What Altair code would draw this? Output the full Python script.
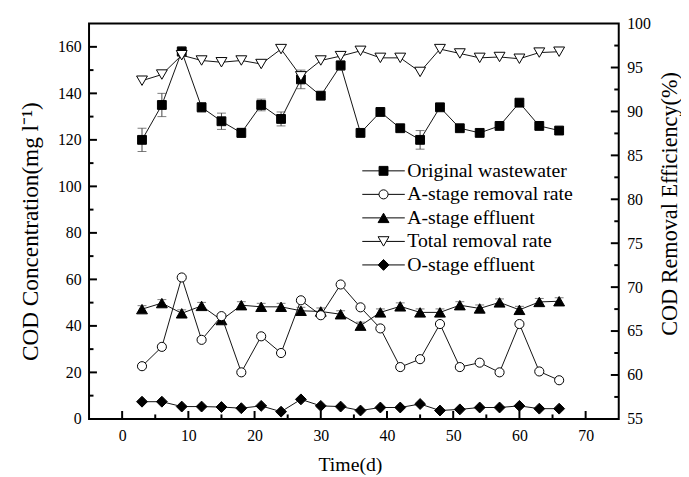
import altair as alt
import pandas as pd

# ---------------- data ----------------
days = [3, 6, 9, 12, 15, 18, 21, 24, 27, 30, 33, 36, 39, 42, 45, 48, 51, 54, 57, 60, 63, 66]
original = [120, 135, 158, 134, 128, 123, 135, 129, 146, 139, 152, 123, 132, 125, 120, 134, 125, 123, 126, 136, 126, 124]
original_err = [5, 5, 2, 2, 3.5, 2, 2.5, 3, 4, 0.5, 2, 0.5, 0.5, 0.5, 4, 0.5, 0.5, 0.5, 0.5, 0.5, 0.5, 0.5]
a_removal = [61.0, 63.2, 71.1, 64.0, 66.7, 60.3, 64.4, 62.5, 68.5, 66.8, 70.3, 67.7, 65.3, 60.9, 61.8, 65.8, 60.9, 61.4, 60.3, 65.8, 60.4, 59.4]
a_effluent = [47.2, 49.8, 45.4, 48.6, 42.5, 48.9, 48.2, 48.2, 46.5, 46.2, 45.0, 40.1, 45.8, 48.4, 45.8, 45.8, 48.9, 47.5, 50.1, 46.9, 50.3, 50.6]
a_effluent_err = [1.5, 1.5, 1.5, 1.5, 1.5, 1.5, 1.5, 1.5, 1.5, 1.5, 1.5, 1.5, 1.5, 1.5, 1.5, 1.5, 1.5, 1.5, 1.5, 1.5, 1.5, 1.5]
total_removal = [93.5, 94.2, 96.4, 95.8, 95.6, 95.8, 95.4, 97.1, 94.0, 95.8, 96.3, 96.9, 96.1, 96.1, 94.5, 97.1, 96.6, 96.1, 96.2, 96.0, 96.7, 96.8]
o_effluent = [7.4, 7.4, 5.3, 5.3, 5.1, 4.6, 5.6, 3.1, 8.4, 5.6, 5.3, 3.6, 4.9, 4.9, 6.4, 3.6, 4.1, 4.9, 4.9, 5.6, 4.4, 4.4]

series_names = ["Original wastewater", "A-stage removal rate", "A-stage effluent",
                "Total removal rate", "O-stage effluent"]

x_labels = [0, 10, 20, 30, 40, 50, 60, 70]
x_minor = [5, 15, 25, 35, 45, 55, 65]
left_labels = [0, 20, 40, 60, 80, 100, 120, 140, 160]
left_major = [20, 40, 60, 80, 100, 120, 140, 160]
left_minor = [10, 30, 50, 70, 90, 110, 130, 150]
right_labels = [55, 60, 65, 70, 75, 80, 85, 90, 95, 100]
right_major = [60, 65, 70, 75, 80, 85, 90, 95]
right_minor = [57.5, 62.5, 67.5, 72.5, 77.5, 82.5, 87.5, 92.5, 97.5]

# ---------------- styling ----------------
FONT = "Liberation Serif"
W, H = 536, 400
INK = "#111111"

xs = alt.Scale(domain=[-5, 75], nice=False, zero=False)
ys_left = alt.Scale(domain=[0, 170], nice=False, zero=False)
ys_right = alt.Scale(domain=[55, 100], nice=False, zero=False)

df_orig = pd.DataFrame({"day": days, "value": original, "err": original_err})
df_orig["lo"] = df_orig["value"] - df_orig["err"]
df_orig["hi"] = df_orig["value"] + df_orig["err"]
df_aeff = pd.DataFrame({"day": days, "value": a_effluent, "err": a_effluent_err})
df_aeff["lo"] = df_aeff["value"] - df_aeff["err"]
df_aeff["hi"] = df_aeff["value"] + df_aeff["err"]
df_oeff = pd.DataFrame({"day": days, "value": o_effluent})
df_arem = pd.DataFrame({"day": days, "value": a_removal})
df_trem = pd.DataFrame({"day": days, "value": total_removal})

x_axis = alt.Axis(values=x_labels, ticks=False, tickSize=0, domain=False, grid=False,
                  labelFont=FONT, labelFontSize=16, labelPadding=9, labelColor="black",
                  title="Time(d)", titleFont=FONT, titleFontSize=20, titleFontWeight="normal",
                  titleColor="black", titleX=264, titleY=46, titleBaseline="middle")
left_axis = alt.Axis(values=left_labels, orient="left", ticks=False, tickSize=0, domain=False, grid=False,
                     labelFont=FONT, labelFontSize=16, labelPadding=8, labelColor="black",
                     title="COD Concentration(mg l\u207b\u00b9)", titleFont=FONT, titleFontSize=23.5,
                     titleFontWeight="normal", titleColor="black", titleAngle=270,
                     titleX=-59, titleY=210, titleBaseline="middle", titleAlign="center")
right_axis = alt.Axis(values=right_labels, orient="right", ticks=False, tickSize=0, domain=False, grid=False,
                      labelFont=FONT, labelFontSize=16, labelPadding=8, labelColor="black",
                      title="COD Removal Efficiency(%)", titleFont=FONT, titleFontSize=22.5,
                      titleFontWeight="normal", titleColor="black", titleAngle=270,
                      titleX=51, titleY=182, titleBaseline="middle", titleAlign="center")


def X(field):
    return alt.X(field, scale=xs, axis=x_axis)


def Y(field, ys):
    return alt.Y(field, scale=ys, axis=left_axis if ys is ys_left else right_axis)


def line(df, ys):
    return alt.Chart(df).mark_line(color=INK, strokeWidth=1).encode(
        x=X("day:Q"), y=Y("value:Q", ys),
    )


def points(df, ys, shape, fill, size):
    return alt.Chart(df).mark_point(shape=shape, filled=True, fill=fill, stroke="black",
                                    strokeWidth=1, size=size, opacity=1).encode(
        x=X("day:Q"), y=Y("value:Q", ys),
    )


def errbars(df, ys):
    base = alt.Chart(df)
    rule = base.mark_rule(color="#444444", strokeWidth=1).encode(
        x=X("day:Q"), y=Y("lo:Q", ys), y2="hi:Q",
    )
    cap_lo = base.mark_tick(orient="horizontal", color="#444444", size=9, thickness=1).encode(
        x=X("day:Q"), y=Y("lo:Q", ys),
    )
    cap_hi = base.mark_tick(orient="horizontal", color="#444444", size=9, thickness=1).encode(
        x=X("day:Q"), y=Y("hi:Q", ys),
    )
    return rule + cap_lo + cap_hi


def yticks(vals, ys, x0, x1):
    return alt.Chart(pd.DataFrame({"t": vals})).mark_rule(color="black", strokeWidth=2).encode(
        y=Y("t:Q", ys), x=alt.value(x0), x2=alt.value(x1),
    )


def xticks(vals, ys, length):
    return alt.Chart(pd.DataFrame({"t": vals})).mark_rule(color="black", strokeWidth=2).encode(
        x=X("t:Q"), y=alt.value(H), y2=alt.value(H - length),
    )


left_group = alt.layer(
    line(df_orig, ys_left),
    line(df_aeff, ys_left),
    line(df_oeff, ys_left),
    errbars(df_orig, ys_left),
    errbars(df_aeff, ys_left),
    points(df_orig, ys_left, "square", "black", 80),
    points(df_aeff, ys_left, "triangle-up", "black", 121),
    points(df_oeff, ys_left, "diamond", "black", 121),
    yticks(left_major, ys_left, 0, 8),
    yticks(left_minor, ys_left, 0, 4.5),
    xticks(x_labels, ys_left, 8),
    xticks(x_minor, ys_left, 4.5),
)

right_group = alt.layer(
    line(df_arem, ys_right),
    line(df_trem, ys_right),
    points(df_arem, ys_right, "circle", "white", 85),
    points(df_trem, ys_right, "triangle-down", "white", 121),
    yticks(right_major, ys_right, W, W - 8),
    yticks(right_minor, ys_right, W, W - 4.5),
)

# legend (line + marker symbols), built from the series names
legend_paths = [
    "M-4.3,0H-0.9M0.9,0H4.3M-0.9,-0.9H0.9V0.9H-0.9Z",
    "M-4.3,0H-0.92M0.92,0H4.3M0.92,0A0.92,0.92,0,1,1,-0.92,0A0.92,0.92,0,1,1,0.92,0Z",
    "M-4.3,0H-0.55M0.55,0H4.3M0,-0.95L1.1,0.95L-1.1,0.95Z",
    "M-4.3,0H-0.55M0.55,0H4.3M-1.1,-0.95L1.1,-0.95L0,0.95Z",
    "M-4.3,0H-1.1M1.1,0H4.3M0,-1.1L1.1,0L0,1.1L-1.1,0Z",
]
legend_fills = ["black", "white", "black", "white", "black"]
legend_strokes = ["black", "black", "black", "black", "black"]
leg = alt.Legend(orient="none", legendX=288, legendY=139, title=None, labelFont=FONT,
                 labelFontSize=20, labelColor="black", symbolSize=100, symbolStrokeWidth=1,
                 labelOffset=14, rowPadding=3.8, labelLimit=400)
legend_layer = alt.Chart(pd.DataFrame({"series": series_names})).transform_filter("false").mark_point(
    filled=True, strokeWidth=1, size=100, opacity=1
).encode(
    shape=alt.Shape("series:N", scale=alt.Scale(domain=series_names, range=legend_paths), legend=leg),
    fill=alt.Fill("series:N", scale=alt.Scale(domain=series_names, range=legend_fills), legend=leg),
    stroke=alt.Stroke("series:N", scale=alt.Scale(domain=series_names, range=legend_strokes), legend=leg),
)

chart = alt.layer(left_group, right_group, legend_layer).resolve_scale(
    y="independent"
).properties(
    width=W, height=H,
    autosize=alt.AutoSizeParams(type="none"),
    padding={"left": 82, "top": 13, "right": 63, "bottom": 55},
    background="white",
).configure(
    font=FONT
).configure_view(
    stroke="black", strokeWidth=2
).configure_legend(
    labelFont=FONT, labelFontSize=20, labelColor="black"
)

chart.save("out.html", embed_options={"renderer": "svg", "actions": False})
